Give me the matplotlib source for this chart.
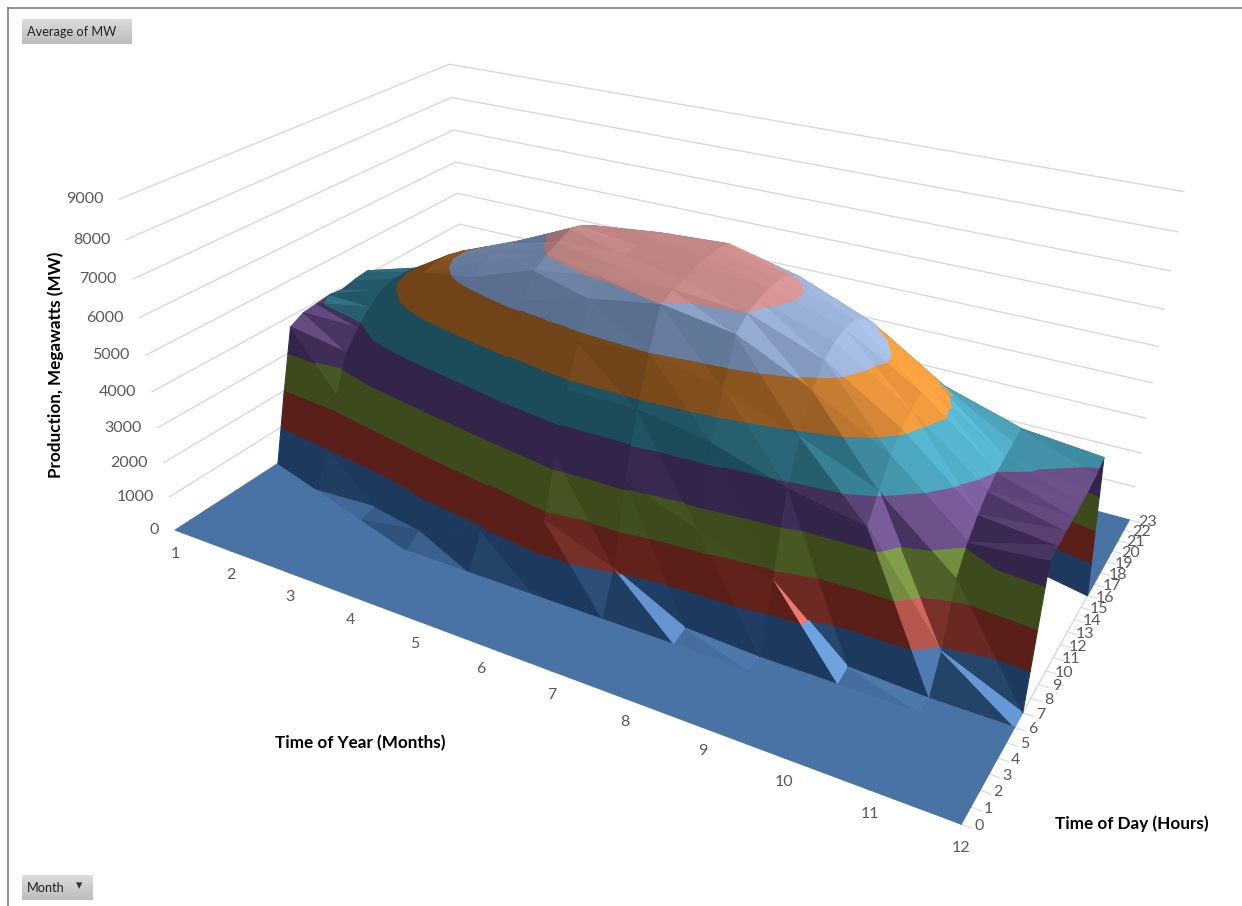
import numpy as np
import matplotlib
matplotlib.use("Agg")
import matplotlib.pyplot as plt
from mpl_toolkits.mplot3d.art3d import Poly3DCollection
from mpl_toolkits.mplot3d import proj3d

plt.rcParams["font.family"] = ["Lato", "DejaVu Sans"]

months = list(range(1, 13))
hours = list(range(24))
z_ticks = [0, 1000, 2000, 3000, 4000, 5000, 6000, 7000, 8000, 9000]

#         0  1  2  3  4     5     6     7     8     9    10    11    12    13    14    15    16    17    18    19  20 21 22 23
mw_jan = [0, 0, 0, 0, 0,    0,    0,    0, 1900, 3700, 3900, 3950, 4000, 3950, 4050, 4100,    0,    0,    0,    0, 0, 0, 0, 0]
mw_feb = [0, 0, 0, 0, 0,    0,    0, 1000, 2400, 3400, 3900, 4300, 4600, 4700, 4700, 4600, 3800,    0,    0,    0, 0, 0, 0, 0]
mw_mar = [0, 0, 0, 0, 0,    0,  100, 2000, 3500, 4600, 5300, 5700, 5800, 5800, 5700, 5300, 4800, 3000,    0,    0, 0, 0, 0, 0]
mw_apr = [0, 0, 0, 0, 0,  300, 1500, 3000, 4400, 5600, 6200, 6400, 6500, 6500, 6400, 6200, 5500, 4000,  800,    0, 0, 0, 0, 0]
mw_may = [0, 0, 0, 0, 0,  900, 2400, 4000, 5300, 6200, 6800, 7000, 7150, 7300, 7200, 7000, 6200, 5000, 2800,    0, 0, 0, 0, 0]
mw_jun = [0, 0, 0, 0, 0, 1800, 3300, 4800, 5800, 6700, 7050, 7150, 7200, 7250, 7300, 7200, 6600, 5300, 3500,  500, 0, 0, 0, 0]
mw_jul = [0, 0, 0, 0, 0, 1100, 3200, 4800, 6000, 7000, 7150, 7200, 7300, 7350, 7350, 7300, 6700, 5500, 3500,  300, 0, 0, 0, 0]
mw_aug = [0, 0, 0, 0, 0,  100, 2500, 4500, 5600, 6700, 7000, 7100, 7200, 7200, 7100, 6850, 6200, 5000, 2500,    0, 0, 0, 0, 0]
mw_sep = [0, 0, 0, 0, 0,    0, 1800, 3900, 4900, 5800, 6300, 6500, 6600, 6600, 6400, 6100, 5300, 4200, 1200,    0, 0, 0, 0, 0]
mw_oct = [0, 0, 0, 0, 0,    0,  100, 3500, 4100, 4700, 5100, 5300, 5500, 5400, 5200, 4900, 4200, 2500,    0,    0, 0, 0, 0, 0]
mw_nov = [0, 0, 0, 0, 0,    0,    0,  900, 2500, 3100, 3500, 3800, 4000, 4100, 4200, 4300, 3400,    0,    0,    0, 0, 0, 0, 0]
mw_dec = [0, 0, 0, 0, 0,    0,    0,    0, 3600, 3650, 3700, 3750, 3800, 3850, 3950, 4100,    0,    0,    0,    0, 0, 0, 0, 0]

surface = np.array([mw_jan, mw_feb, mw_mar, mw_apr, mw_may, mw_jun,
                    mw_jul, mw_aug, mw_sep, mw_oct, mw_nov, mw_dec], dtype=float)

band_dark = ["#1d3a5e", "#5a1f18", "#3d4b1c", "#33244a", "#1c4c5a", "#704318", "#5a6f90", "#9a6a6a"]
band_bright = ["#6ea3e2", "#ee7a70", "#94b455", "#8e6bb0", "#5cc0dc", "#ffa544", "#aec6ee", "#eba3a3"]
W_PX, H_PX = 1242, 906

# camera fitted against the chart corners
ELEV, AZIM, FOCAL = 27.218, -60.186, 0.2752
BOX_X, BOX_Y = 2.3354, 1.3994
CX, CY, SCALE = 654.77, 369.12, 5625.43

fig = plt.figure(figsize=(W_PX / 100, H_PX / 100), dpi=100)
ax = fig.add_axes([0, 0, 906 / W_PX, 1], projection="3d")
ax.set_xlim(1, 12, view_margin=0)
ax.set_ylim(0, 23, view_margin=0)
ax.set_zlim(0, 9000, view_margin=0)
ax.view_init(elev=ELEV, azim=AZIM)
ax.set_proj_type("persp", focal_length=FOCAL)
ax.set_box_aspect((BOX_X, BOX_Y, 1.0))

ax.apply_aspect()
a0, a1 = ax.transData.transform([(0, 0), (1, 1)])
bb = ax.get_position()
frac = (a1[0] - a0[0]) / (bb.width * W_PX)
off_x = (a0[0] - bb.x0 * W_PX) / (bb.width * W_PX)
off_y = (a0[1] - bb.y0 * H_PX) / (bb.height * H_PX)
W = SCALE / frac
left = CX - off_x * W
bottom = (H_PX - CY) - off_y * W
ax.set_position([left / W_PX, bottom / H_PX, W / W_PX, W / H_PX])

levels = np.arange(0, 9000, 1000)
X_SCALE, Y_SCALE, Z_SCALE = BOX_X / 11.0, BOX_Y / 23.0, 1.0 / 9000.0
VIEW_DIR = np.array([0.445, -0.77, 0.454])


def clip_band(tri, lo, hi):
    poly = tri
    for limit, sign in ((lo, 1), (hi, -1)):
        out = []
        for i in range(len(poly)):
            a, b = poly[i], poly[(i + 1) % len(poly)]
            da, db = sign * (a[2] - limit), sign * (b[2] - limit)
            if da >= 0:
                out.append(a)
            if da * db < 0:
                out.append(a + (b - a) * da / (da - db))
        poly = out
        if not poly:
            return []
    return poly


def shade_of(tri):
    u = (tri[1] - tri[0]) * [X_SCALE, Y_SCALE, Z_SCALE]
    v = (tri[2] - tri[0]) * [X_SCALE, Y_SCALE, Z_SCALE]
    n = np.cross(u, v)
    n = n / np.linalg.norm(n)
    if n[2] < 0:
        n = -n
    # faces turned away from the camera stay dark
    if n @ VIEW_DIR < 0:
        return 0.0
    raw = 0.30 + 0.62 * n[0] + 0.15 * n[1] + 0.35 * n[2]
    return np.clip((raw - 0.30) / 0.65, 0.0, 1.0)


polys, cols = [], []
for mi in range(len(months) - 1):
    for hi in range(len(hours) - 1):
        p00 = np.array([months[mi], hours[hi], surface[mi, hi]])
        p10 = np.array([months[mi + 1], hours[hi], surface[mi + 1, hi]])
        p01 = np.array([months[mi], hours[hi + 1], surface[mi, hi + 1]])
        p11 = np.array([months[mi + 1], hours[hi + 1], surface[mi + 1, hi + 1]])
        for tri in ((p00, p10, p01), (p10, p11, p01)):
            t = shade_of(tri)
            for k, lo in enumerate(levels[:-1]):
                poly = clip_band(list(tri), lo, lo + 1000)
                if len(poly) >= 3:
                    polys.append(np.array(poly))
                    dark = np.array(matplotlib.colors.to_rgb(band_dark[k]))
                    bright = np.array(matplotlib.colors.to_rgb(band_bright[k]))
                    cols.append((*(dark + (bright - dark) * t), 1.0))

ax.computed_zorder = False
ax.set_axis_off()

grid_color = "#d9d9d9"
for z in z_ticks[1:]:
    ax.plot([1, 1, 12], [0, 23, 23], [z, z, z], color=grid_color, lw=1.0, zorder=1, clip_on=False)
ax.plot([12, 12], [0, 23], [0, 0], color=grid_color, lw=1.0, zorder=1, clip_on=False)
for h in hours:
    ax.plot([12, 12.12], [h, h], [0, 0], color=grid_color, lw=0.8, zorder=1, clip_on=False)

surf = Poly3DCollection(polys, facecolors=cols, edgecolors=cols, linewidths=0.8, zorder=2)
ax.add_collection3d(surf)

M = ax.get_proj()
tick_color = "#595959"


def label_at(x, y, z, txt, dx, dy, ha="center"):
    px, py, _ = proj3d.proj_transform(x, y, z, M)
    ax.annotate(txt, xy=(px, py), xytext=(dx, dy), textcoords="offset pixels", annotation_clip=False,
                ha=ha, va="center", fontsize=11.5, color=tick_color, zorder=5)


for z in z_ticks:
    label_at(1, 0, z, str(z), -16, 0, ha="right")
for m in months:
    label_at(m, 0, 0, str(m), 0, -24)
for h in hours:
    label_at(12, h, 0, str(h), 18, -2)

title_kw = dict(fontsize=12.3, fontweight="bold", color="black", ha="center", va="center")
fig.text(56 / W_PX, 1 - 365 / H_PX, "Production, Megawatts (MW)", rotation=90, **title_kw)
fig.text(360 / W_PX, 1 - 743 / H_PX, "Time of Year (Months)", **title_kw)
fig.text(1132 / W_PX, 1 - 824 / H_PX, "Time of Day (Hours)", **title_kw)

# frame lines of the sheet
fig.add_artist(plt.Line2D([8 / W_PX, 8 / W_PX], [0, 1 - 8 / H_PX], color="#808080", lw=1.2))
fig.add_artist(plt.Line2D([8 / W_PX, 1], [1 - 8 / H_PX, 1 - 8 / H_PX], color="#808080", lw=1.2))


def button(x0, y0, x1, y1, txt):
    bax = fig.add_axes([x0 / W_PX, 1 - y1 / H_PX, (x1 - x0) / W_PX, (y1 - y0) / H_PX])
    bax.imshow(np.linspace(0.86, 0.74, 16).reshape(-1, 1), cmap="gray", vmin=0, vmax=1, aspect="auto")
    bax.axis("off")
    fig.text((x0 + 5) / W_PX, 1 - (y0 + y1) / 2 / H_PX, txt, fontsize=9.2, color="#222222", ha="left", va="center")


button(22, 19, 132, 44, "Average of MW")
button(22, 875, 93, 900, "Month")
fig.text(79 / W_PX, 1 - 886 / H_PX, "\u25be", fontsize=9, color="#333333", ha="center", va="center",
         family="DejaVu Sans")

fig.savefig("out.png", dpi=100)
